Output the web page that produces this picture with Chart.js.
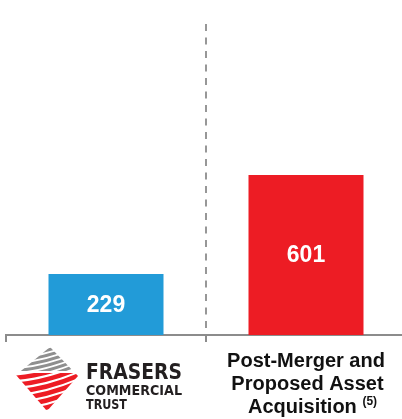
<!DOCTYPE html>
<html>
<head>
<meta charset="utf-8">
<script src="https://cdn.jsdelivr.net/npm/chart.js@4"></script>
<style>
  html, body { margin: 0; padding: 0; background: #fff; overflow: hidden; }
  #wrap { position: relative; width: 410px; height: 419px; }
</style>
</head>
<body>
<div id="wrap"><canvas id="chart"></canvas></div>
<script>
const categories = ["Frasers Commercial Trust", "Post-Merger and Proposed Asset Acquisition"];
const values = [229, 601];
const logoLines = ["FRASERS", "COMMERCIAL", "TRUST"];
const mergerLines = ["Post-Merger and", "Proposed Asset", "Acquisition"];
const mergerNote = "(5)";

const BLUE = "#229bd8";
const RED = "#ed1c24";
const GREY = "#8c8c8c";

// bar value labels, white, centred in each bar
const valueLabels = {
  id: "valueLabels",
  afterDatasetsDraw(chart) {
    const ctx = chart.ctx;
    const meta = chart.getDatasetMeta(0);
    ctx.save();
    ctx.fillStyle = "#fff";
    ctx.font = "bold 23px 'Liberation Sans', Arial, sans-serif";
    ctx.textAlign = "center";
    ctx.textBaseline = "middle";
    meta.data.forEach((bar, i) => {
      ctx.fillText(String(values[i]), bar.x, (bar.y + bar.base) / 2 + 1);
    });
    ctx.restore();
  },
};

function drawLogo(ctx, cx) {
  const x0 = cx - 90;
  const diamond = () => {
    ctx.beginPath();
    ctx.moveTo(x0 + 34, 347);
    ctx.lineTo(x0 + 62, 376);
    ctx.lineTo(x0 + 31, 411);
    ctx.lineTo(x0 + 0, 375);
    ctx.closePath();
  };
  const stripes = (yTop, yBot, color, lw, start, n, gap) => {
    ctx.save();
    diamond();
    ctx.clip();
    ctx.beginPath();
    ctx.rect(x0 - 5, yTop, 80, yBot - yTop);
    ctx.clip();
    ctx.strokeStyle = color;
    ctx.lineWidth = lw;
    for (let i = 0; i < n; i++) {
      const y = start + i * gap;
      ctx.beginPath();
      ctx.moveTo(x0 - 4, y + 6);
      ctx.quadraticCurveTo(x0 + 30, y + 4, x0 + 66, y - 12);
      ctx.stroke();
    }
    ctx.restore();
  };
  stripes(345, 371, "#8f8f8f", 3, 350, 6, 5);
  stripes(373, 412, RED, 4.5, 372, 7, 7);

  // word mark
  const fam = "'Liberation Sans Narrow', 'DejaVu Sans Condensed', 'Arial Narrow', sans-serif";
  const spec = [
    { size: 22, base: 379, w: 96 },
    { size: 14, base: 395, w: 96 },
    { size: 14, base: 409, w: 41 },
  ];
  ctx.save();
  ctx.fillStyle = "#231f20";
  ctx.textBaseline = "alphabetic";
  logoLines.forEach((t, i) => {
    const s = spec[i];
    ctx.font = "bold " + s.size + "px " + fam;
    const m = ctx.measureText(t).width;
    ctx.save();
    ctx.translate(x0 + 70, s.base);
    ctx.scale(s.w / m, 1);
    ctx.fillText(t, 0, 0);
    ctx.restore();
  });
  ctx.restore();
}

const categoryLabels = {
  id: "categoryLabels",
  afterDraw(chart) {
    const ctx = chart.ctx;
    const x = chart.scales.x;
    drawLogo(ctx, x.getPixelForValue(0));

    const cx = x.getPixelForValue(1);
    const big = "bold 20px 'Liberation Sans', Arial, sans-serif";
    const small = "bold 12px 'Liberation Sans', Arial, sans-serif";
    ctx.save();
    ctx.fillStyle = "#111";
    ctx.textBaseline = "alphabetic";
    ctx.font = big;
    ctx.textAlign = "center";
    ctx.fillText(mergerLines[0], cx, 367);
    ctx.fillText(mergerLines[1], cx + 1.5, 390);
    const w1 = ctx.measureText(mergerLines[2] + " ").width;
    ctx.font = small;
    const w2 = ctx.measureText(mergerNote).width;
    const left = cx + 6.5 - (w1 + w2) / 2;
    ctx.textAlign = "left";
    ctx.font = big;
    ctx.fillText(mergerLines[2], left, 413);
    ctx.font = small;
    ctx.fillText(mergerNote, left + w1, 405);
    ctx.restore();
  },
};

new Chart(document.getElementById("chart"), {
  type: "bar",
  data: {
    labels: categories,
    datasets: [
      {
        data: values,
        backgroundColor: [BLUE, RED],
        borderWidth: 0,
        barPercentage: 0.575,
        categoryPercentage: 1,
      },
    ],
  },
  options: {
    responsive: true,
    maintainAspectRatio: false,
    animation: false,
    layout: { padding: { top: 24, left: 6, right: 4, bottom: 77 } },
    plugins: { legend: { display: false }, tooltip: { enabled: false } },
    scales: {
      x: {
        ticks: { display: false },
        grid: {
          offset: true,
          drawTicks: true,
          tickLength: 7,
          lineWidth: 2,
          tickWidth: 2,
          color: (c) => (c.index === 1 ? "#979797" : "transparent"),
          tickColor: (c) => (c.index < 2 ? GREY : "transparent"),
        },
        border: { color: GREY, width: 2, dash: [7, 6.5] },
      },
      y: { display: false, min: 0, max: 1168 },
    },
  },
  plugins: [valueLabels, categoryLabels],
});
</script>
</body>
</html>
